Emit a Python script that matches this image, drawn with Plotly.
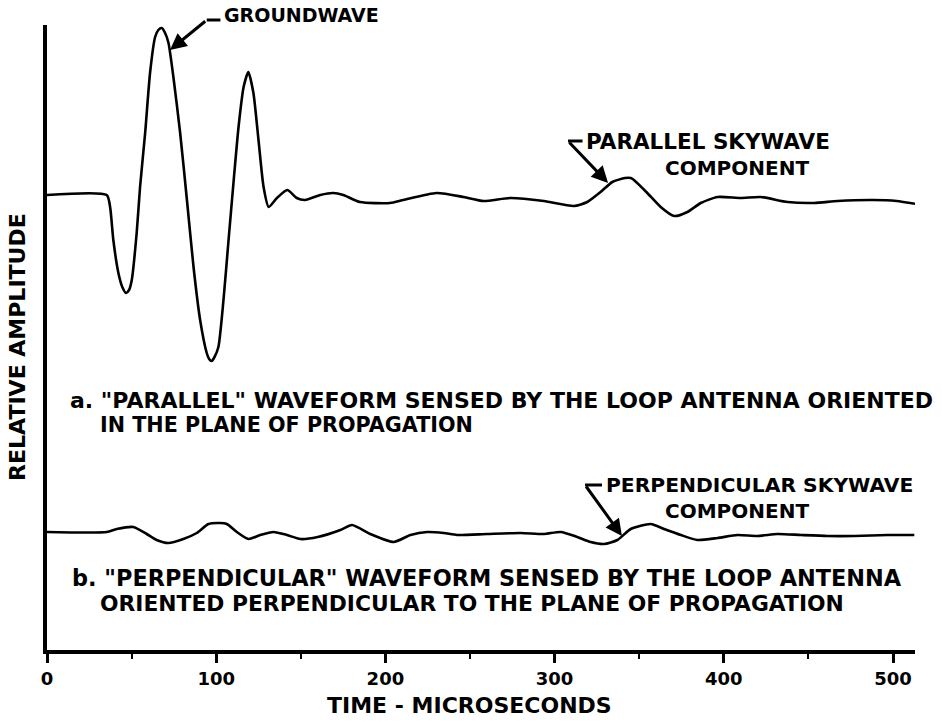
import plotly.graph_objects as go

# ---- data (time in microseconds, deflection in relative-amplitude units) ----
par_t = [0, 35.3, 37.3, 39.2, 42.2, 44.5, 46.7, 48.5, 50.1, 53.0, 55.0, 58.0, 60.9, 63.9, 65.8,
         67.8, 69.8, 71.8, 74.7, 78.7, 82.7, 86.6, 90.5, 94.4, 95.8, 97.3, 99.0, 101.3, 104.3,
         107.3, 110.2, 113.2, 116.2, 119.0, 122.0, 125.0, 128.0, 131.0, 135.9, 142.0, 147.6,
         152.5, 161.5, 169.2, 175.1, 185.0, 202.7, 210.6, 230.3, 246.3, 258.0, 273.9, 293.7,
         311.4, 319.3, 327.2, 334.1, 341.6, 345.0, 346.9, 354.8, 362.7, 370.6, 378.5, 386.4,
         396.3, 410.0, 421.9, 437.7, 453.4, 467.3, 488.3, 502.1, 513.8]
par_amp = [0, 0, -0.12, -0.45, -0.78, -0.92, -0.98, -0.95, -0.85, -0.38, 0.08, 0.62, 1.22, 1.58, 1.65,
           1.67, 1.62, 1.52, 1.18, 0.62, -0.05, -0.72, -1.25, -1.58, -1.64, -1.66, -1.62, -1.52, -1.05,
           -0.45, 0.12, 0.68, 1.08, 1.23, 1.02, 0.55, 0.08, -0.12, -0.03, 0.05, -0.03,
           -0.05, 0.0, 0.02, 0.0, -0.07, -0.08, -0.05, 0.02, -0.02, -0.06, -0.03, -0.06,
           -0.11, -0.07, 0.03, 0.13, 0.17, 0.17, 0.15, 0.02, -0.12, -0.21, -0.17, -0.08,
           -0.02, -0.03, -0.02, -0.07, -0.08, -0.06, -0.05, -0.06, -0.09]

perp_t = [0, 35.3, 41.2, 51.0, 58.9, 64.8, 71.7, 80.6, 88.5, 95.4, 102.4, 106.3, 112.2, 119.1,
          126.0, 133.9, 141.8, 149.7, 160.0, 173.4, 180.3, 191.1, 204.9, 214.8, 224.7,
          234.5, 242.4, 260.2, 279.9, 293.7, 303.6, 313.4, 321.3, 329.2, 337.1, 345.0, 356.8,
          364.7, 374.6, 384.4, 396.3, 408.1, 419.9, 431.8, 445.6, 461.3, 477.1, 496.9, 512.6]
perp_amp = [0, 0, 0.03, 0.05, -0.02, -0.08, -0.11, -0.07, -0.01, 0.08, 0.09, 0.08, 0.0, -0.07,
            -0.03, 0.0, -0.03, -0.07, -0.05, 0.02, 0.07, -0.02, -0.10, -0.03, 0.0,
            -0.01, -0.03, -0.02, -0.01, -0.02, 0.0, -0.05, -0.10, -0.12, -0.08, 0.03, 0.08,
            0.03, -0.03, -0.08, -0.06, -0.03, -0.04, -0.02, -0.03, -0.04, -0.04, -0.03, -0.03]

x_ticks = [0, 100, 200, 300, 400, 500]
x_tick_labels = ["0", "100", "200", "300", "400", "500"]

# baselines of the two traces on the (hidden) amplitude scale
PAR_BASE = 4.55
PERP_BASE = 1.18
Y_TOP = 6.25

FONT = "DejaVu Sans"

def tf(size):
    return dict(family=FONT, size=size, color="black", weight="bold")

fig = go.Figure()
fig.add_trace(go.Scatter(x=par_t, y=[PAR_BASE + v for v in par_amp], mode="lines",
                         line=dict(color="black", width=2.6, shape="spline", smoothing=0.6),
                         hoverinfo="skip", showlegend=False))
fig.add_trace(go.Scatter(x=perp_t, y=[PERP_BASE + v for v in perp_amp], mode="lines",
                         line=dict(color="black", width=2.6, shape="spline", smoothing=0.6),
                         hoverinfo="skip", showlegend=False))

ann = []
def text(x, y, s, size, anchor="left"):
    ann.append(dict(x=x, y=y / Y_TOP, xref="x", yref="paper", text=s, showarrow=False,
                    xanchor=anchor, yanchor="middle", font=tf(size)))

def leader(x0, x1, y, tx, ty):
    # short horizontal dash, then arrow to the trace
    fig.add_shape(type="line", x0=x0, x1=x1, y0=y / Y_TOP, y1=y / Y_TOP, xref="x", yref="paper",
                  line=dict(color="black", width=3))
    ann.append(dict(x=tx, y=ty, ax=x0, ay=y, xref="x", yref="y", axref="x", ayref="y",
                    text="", showarrow=True, arrowhead=2, arrowsize=1.1, arrowwidth=3,
                    arrowcolor="black", standoff=0))

text(103.4, 6.35, "GROUNDWAVE", 19)
leader(94.4, 102.5, 6.30, 72.7, 6.00)

text(317.5, 5.09, "PARALLEL SKYWAVE", 21.5)
text(364.1, 4.82, "COMPONENT", 20)
leader(307.9, 316.5, 5.09, 331.6, 4.67)

text(329.2, 1.65, "PERPENDICULAR SKYWAVE", 20.3)
text(364.1, 1.39, "COMPONENT", 20)
leader(318.0, 328.0, 1.65, 339.8, 1.14)

text(12.4, 2.50, 'a. "PARALLEL" WAVEFORM SENSED BY THE LOOP ANTENNA ORIENTED', 22)
text(30.1, 2.25, "IN THE PLANE OF PROPAGATION", 20.7)
text(13.6, 0.72, 'b. "PERPENDICULAR" WAVEFORM SENSED BY THE LOOP ANTENNA', 22.4)
text(30.1, 0.47, "ORIENTED PERPENDICULAR TO THE PLANE OF PROPAGATION", 21.8)

ann.append(dict(x=0.487, y=-0.088, xref="paper", yref="paper", text="TIME - MICROSECONDS",
                showarrow=False, xanchor="center", yanchor="middle", font=tf(22)))
ann.append(dict(x=-0.0334, y=0.485, xref="paper", yref="paper", text="RELATIVE AMPLITUDE",
                showarrow=False, textangle=-90, xanchor="center", yanchor="middle", font=tf(22)))

fig.update_layout(
    width=942, height=722,
    margin=dict(l=47, r=27, t=25, b=72),
    paper_bgcolor="white", plot_bgcolor="white",
    annotations=ann,
    xaxis=dict(range=[0, 513], showgrid=False, zeroline=False, showline=True,
               linecolor="black", linewidth=4, ticks="outside", ticklen=9, tickwidth=3,
               tickcolor="black", tickvals=x_ticks, ticktext=x_tick_labels,
               tickfont=tf(18),
               minor=dict(dtick=50, tick0=0, ticks="outside", ticklen=5, tickwidth=2,
                          tickcolor="black", showgrid=False)),
    yaxis=dict(range=[0, Y_TOP], showgrid=False, zeroline=False, showline=True,
               linecolor="black", linewidth=4, showticklabels=False, ticks=""),
)

fig.write_html("out.html", config={"displayModeBar": False},
               post_script="document.body.style.margin='0';")
